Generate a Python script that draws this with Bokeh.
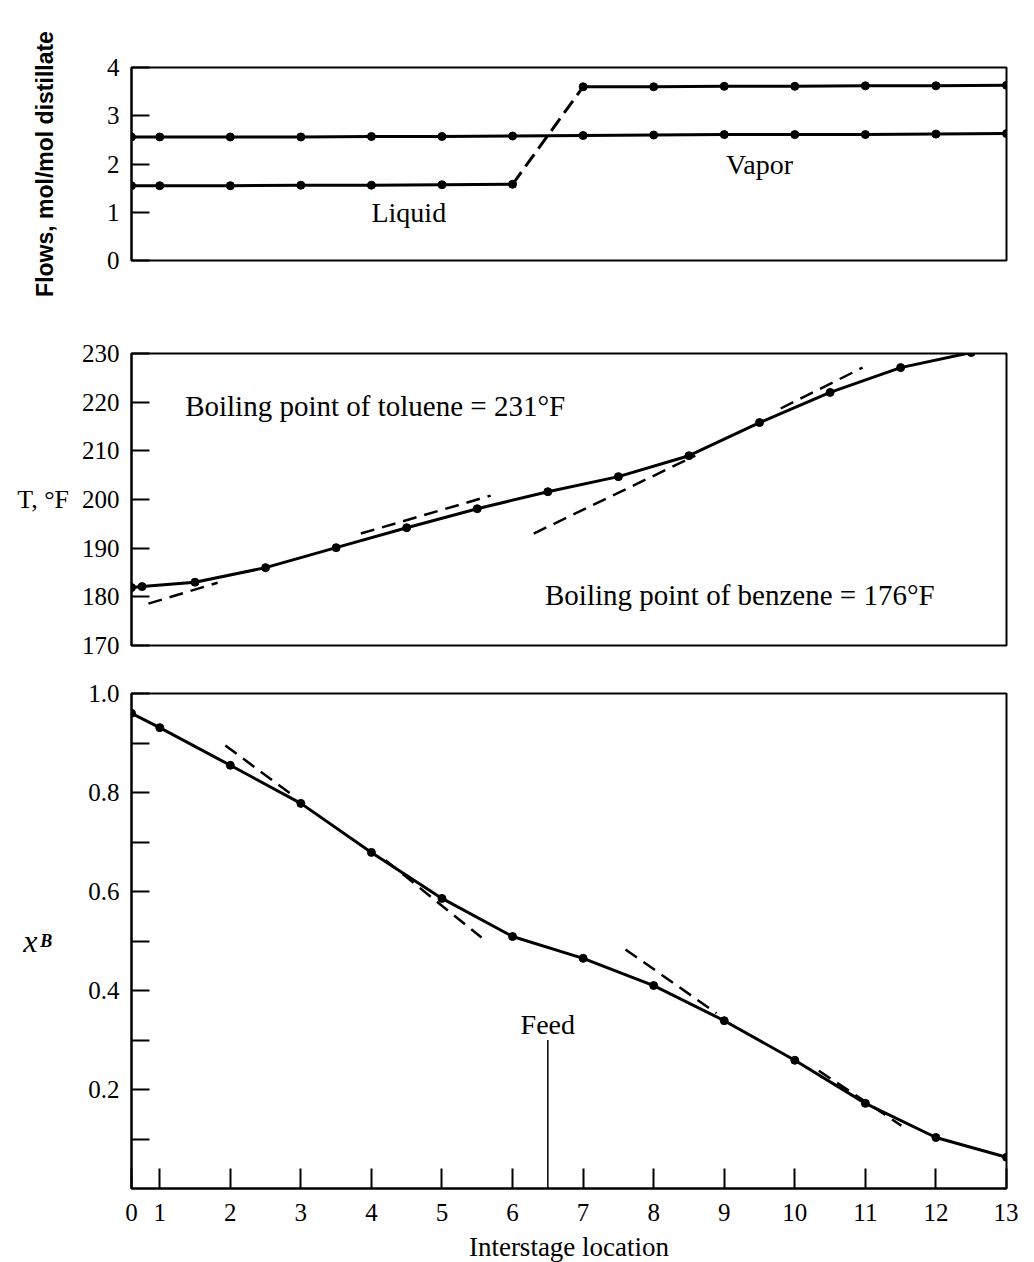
from bokeh.plotting import figure
from bokeh.layouts import column
from bokeh.models import FixedTicker, NumeralTickFormatter, Label, Range1d, LinearAxis
from bokeh.embed import file_html
from bokeh.resources import INLINE

SERIF = "Liberation Serif"
SANS = "Liberation Sans"

# ---------------- data ----------------
# Top panel: flows (mol/mol distillate) vs interstage location
flow_x = [0.6, 1, 2, 3, 4, 5, 6, 7, 8, 9, 10, 11, 12, 13]
vapor = [2.56, 2.56, 2.56, 2.56, 2.57, 2.57, 2.58, 2.59, 2.60, 2.61, 2.61, 2.61, 2.62, 2.63]
liquid = [1.55, 1.55, 1.55, 1.56, 1.56, 1.57, 1.58, 3.60, 3.60, 3.61, 3.61, 3.62, 3.62, 3.63]
feed_index = 6  # liquid jumps between location 6 and 7 (dashed)

# Middle panel: temperature, F
temp_x = [0.6, 0.75, 1.5, 2.5, 3.5, 4.5, 5.5, 6.5, 7.5, 8.5, 9.5, 10.5, 11.5, 12.5]
temp = [181.9, 182.1, 183.0, 186.0, 190.1, 194.2, 198.1, 201.6, 204.7, 209.0, 215.8, 222.0, 227.1, 230.2]
temp_tan_x = [[0.84, 1.82], [3.85, 5.69], [6.3, 8.59], [9.8, 10.96]]
temp_tan_y = [[178.6, 182.9], [193.0, 200.8], [193.0, 209.0], [218.7, 227.1]]

# Bottom panel: benzene mole fraction
xb_x = [0.6, 1, 2, 3, 4, 5, 6, 7, 8, 9, 10, 11, 12, 13]
xb = [0.96, 0.931, 0.855, 0.778, 0.679, 0.586, 0.509, 0.465, 0.41, 0.339, 0.259, 0.172, 0.103, 0.063]
xb_tan_x = [[1.93, 2.85], [4.2, 5.56], [7.6, 8.89], [10.34, 11.51]]
xb_tan_y = [[0.895, 0.798], [0.663, 0.507], [0.483, 0.354], [0.238, 0.127]]
feed_loc = 6.5
feed_top = 0.30

X0, X1 = 0.6, 13.0
x_ticks = [X0, 1, 2, 3, 4, 5, 6, 7, 8, 9, 10, 11, 12, 13]
x_tick_labels = {X0: "0"}
flow_ticks = [0, 1, 2, 3, 4]
temp_ticks = [170, 180, 190, 200, 210, 220, 230]
xb_major = [0.2, 0.4, 0.6, 0.8, 1.0]
xb_minor = [0.1, 0.3, 0.5, 0.7, 0.9]

FRAME_W = 875
LEFT = 131
TICK_FS = "25px"
ANN_FS = "28px"


def style(p):
    p.grid.visible = False
    p.outline_line_color = "black"
    p.outline_line_width = 2
    p.outline_line_alpha = 1
    p.background_fill_color = "white"
    p.border_fill_color = "white"
    for ax in p.yaxis:
        ax.axis_line_width = 2
        ax.major_tick_in = 18
        ax.major_tick_out = 0
        ax.major_tick_line_width = 2
        ax.minor_tick_in = 18
        ax.minor_tick_out = 0
        ax.minor_tick_line_width = 2
        ax.major_label_text_font = SERIF
        ax.major_label_text_font_size = TICK_FS
        ax.major_label_text_color = "black"
        ax.major_label_standoff = 12
        ax.axis_label_text_color = "black"


def ann(p, x, y, text, align="center", size=ANN_FS, font=SERIF, fstyle="normal"):
    p.add_layout(Label(x=x, y=y, text=text, text_align=align, text_baseline="middle",
                       text_font=font, text_font_size=size, text_font_style=fstyle,
                       text_color="black"))


LINE_DASH_T = "14 8"

# ---------------- top panel ----------------
p1 = figure(frame_width=FRAME_W, frame_height=193, x_range=Range1d(X0, X1), y_range=Range1d(0, 4),
            x_axis_location=None, toolbar_location=None, output_backend="svg",
            min_border_left=LEFT, min_border_right=12, min_border_top=67, min_border_bottom=40)
style(p1)
p1.yaxis.ticker = FixedTicker(ticks=flow_ticks)
p1.yaxis.axis_label = "Flows, mol/mol distillate"
p1.yaxis.axis_label_text_font = SANS
p1.yaxis.axis_label_text_font_style = "bold"
p1.yaxis.axis_label_text_font_size = "23px"
p1.yaxis.axis_label_standoff = 46

p1.line(flow_x, vapor, line_color="black", line_width=3)
p1.scatter(flow_x, vapor, size=8, color="black")
p1.line(flow_x[:feed_index + 1], liquid[:feed_index + 1], line_color="black", line_width=3)
p1.line(flow_x[feed_index:feed_index + 2], liquid[feed_index:feed_index + 2], line_color="black",
        line_width=3, line_dash="15 7")
p1.line(flow_x[feed_index + 1:], liquid[feed_index + 1:], line_color="black", line_width=3)
p1.scatter(flow_x, liquid, size=8, color="black")
ann(p1, 4.53, 1.0, "Liquid")
ann(p1, 9.5, 2.0, "Vapor")

# ---------------- middle panel ----------------
p2 = figure(frame_width=FRAME_W, frame_height=292, x_range=Range1d(X0, X1), y_range=Range1d(170, 230),
            x_axis_location=None, toolbar_location=None, output_backend="svg",
            min_border_left=LEFT, min_border_right=12, min_border_top=53, min_border_bottom=20)
style(p2)
p2.yaxis.ticker = FixedTicker(ticks=temp_ticks)
p2.yaxis.axis_label = "T, °F"
p2.yaxis.axis_label_orientation = "horizontal"
p2.yaxis.axis_label_text_font = SERIF
p2.yaxis.axis_label_text_font_style = "normal"
p2.yaxis.axis_label_text_font_size = "26px"
p2.yaxis.axis_label_standoff = 10

p2.multi_line(temp_tan_x, temp_tan_y, line_color="black", line_width=2.5, line_dash=LINE_DASH_T)
p2.line(temp_x, temp, line_color="black", line_width=3)
p2.scatter(temp_x, temp, size=8, color="black")
ann(p2, 1.36, 219.3, "Boiling point of toluene = 231°F", align="left", size="29px")
ann(p2, 6.46, 180.3, "Boiling point of benzene = 176°F", align="left", size="29px")

# ---------------- bottom panel ----------------
p3 = figure(frame_width=FRAME_W, frame_height=495, x_range=Range1d(X0, X1), y_range=Range1d(0, 1.0),
            toolbar_location=None, output_backend="svg",
            min_border_left=LEFT, min_border_right=12, min_border_top=28, min_border_bottom=66)
style(p3)
p3.yaxis.ticker = FixedTicker(ticks=xb_major, minor_ticks=xb_minor)
p3.yaxis.formatter = NumeralTickFormatter(format="0.0")
p3.yaxis.axis_label = "B"
p3.yaxis.axis_label_orientation = "horizontal"
p3.yaxis.axis_label_text_font = SERIF
p3.yaxis.axis_label_text_font_style = "bold italic"
p3.yaxis.axis_label_text_font_size = "18px"
p3.yaxis.axis_label_text_baseline = "top"
p3.yaxis.axis_label_standoff = 33

xlab = LinearAxis(ticker=FixedTicker(ticks=[]), axis_line_color=None, major_tick_line_color=None,
                  minor_tick_line_color=None, major_label_standoff=0, major_tick_in=0, major_tick_out=0,
                  minor_tick_in=0, minor_tick_out=0, axis_label_standoff=0)
xlab.axis_label = "x"
xlab.axis_label_orientation = "horizontal"
xlab.axis_label_text_font = SERIF
xlab.axis_label_text_font_style = "italic"
xlab.axis_label_text_font_size = "32px"
xlab.axis_label_text_color = "black"
p3.add_layout(xlab, "left")

p3.xaxis.ticker = FixedTicker(ticks=x_ticks)
p3.xaxis.major_label_overrides = x_tick_labels
p3.xaxis.axis_line_width = 2
p3.xaxis.major_tick_in = 20
p3.xaxis.major_tick_out = 0
p3.xaxis.major_tick_line_width = 2
p3.xaxis.major_label_text_font = SERIF
p3.xaxis.major_label_text_font_size = TICK_FS
p3.xaxis.major_label_text_color = "black"
p3.xaxis.major_label_standoff = 15
p3.xaxis.axis_label = "Interstage location"
p3.xaxis.axis_label_text_font = SERIF
p3.xaxis.axis_label_text_font_style = "normal"
p3.xaxis.axis_label_text_font_size = "27px"
p3.xaxis.axis_label_text_color = "black"
p3.xaxis.axis_label_standoff = 8

p3.multi_line(xb_tan_x, xb_tan_y, line_color="black", line_width=2.5, line_dash=LINE_DASH_T)
p3.line(xb_x, xb, line_color="black", line_width=3)
p3.scatter(xb_x, xb, size=8, color="black")
p3.segment(x0=[feed_loc], y0=[0], x1=[feed_loc], y1=[feed_top], line_color="black", line_width=1.5)
ann(p3, feed_loc, feed_top + 0.032, "Feed")

layout = column(p1, p2, p3)
open("out.html", "w").write(file_html(layout, INLINE))
